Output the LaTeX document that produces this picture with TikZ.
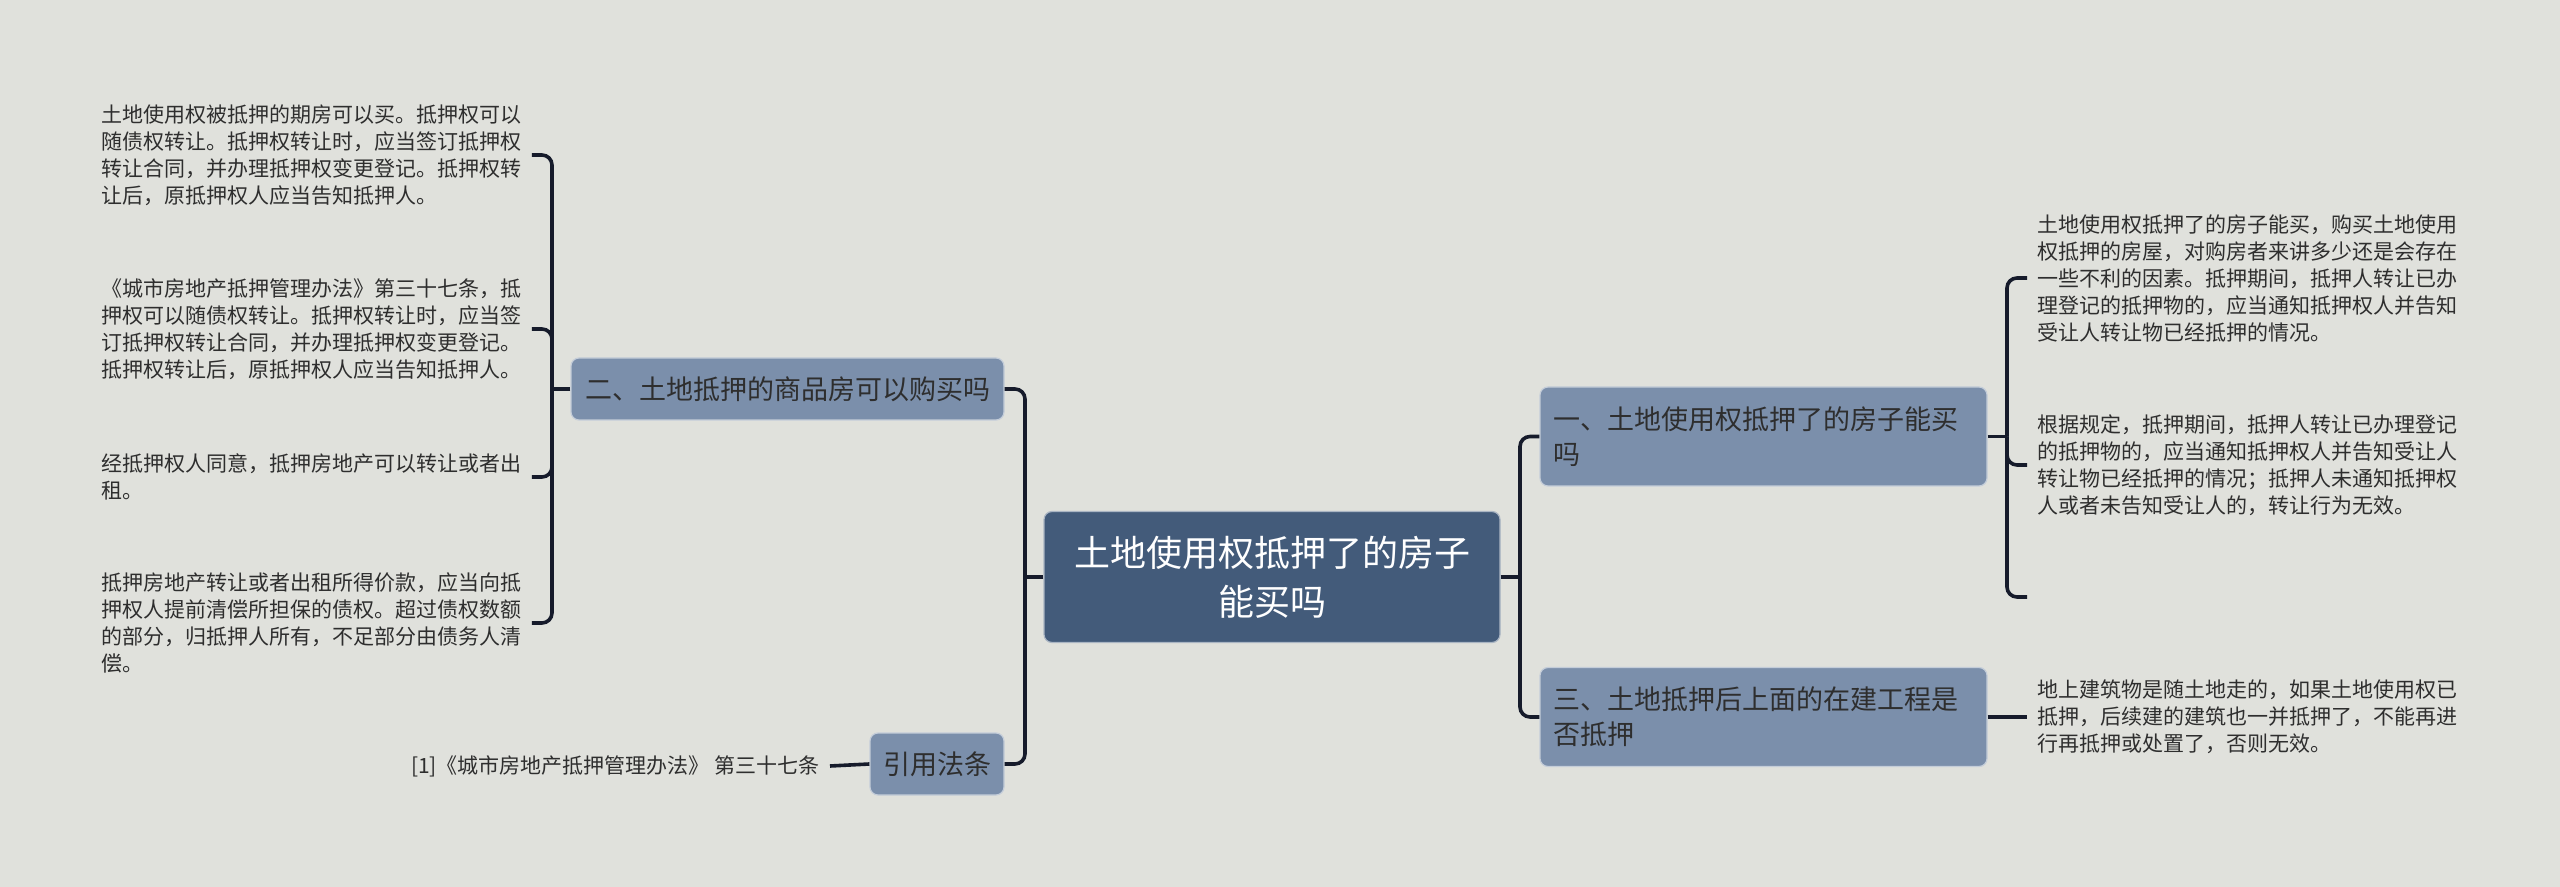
\documentclass[tikz,border=0pt]{standalone}
\usepackage{fontspec}
\setmainfont{Noto Sans CJK SC}
\usepackage{xcolor}
\usepackage{tikz}

\definecolor{bgcol}{HTML}{E0E1DC}
\definecolor{rootcol}{HTML}{435B7A}
\definecolor{branchcol}{HTML}{7B8FAB}
\definecolor{linecol}{HTML}{161B2B}
\definecolor{txtcol}{HTML}{2E2E2E}

\tikzset{
	rootbox/.style={draw=white!55!rootcol, line width=0.6pt, fill=rootcol, rounded corners=4pt, text=white,
		minimum width=228pt, minimum height=65.5pt, align=center, font=\fontsize{18pt}{24.5pt}\selectfont},
	branchbox/.style={draw=white!55!branchcol, line width=0.6pt, fill=branchcol, rounded corners=4pt, text=txtcol,
		minimum height=31pt, inner xsep=6pt, font=\fontsize{13.5pt}{17.5pt}\selectfont},
	leaftext/.style={text=txtcol, align=left, inner xsep=5pt, inner ysep=2pt, anchor=west,
		font=\fontsize{10.5pt}{13.5pt}\selectfont},
	link/.style={draw=linecol, line width=1.8pt, rounded corners=5pt}
}

\begin{document}
\begin{tikzpicture}[x=0.5pt, y=-0.5pt]
	\fill[bgcol] (0,0) rectangle (2560,887);
	\useasboundingbox (0,0) rectangle (2560,887);

	% centre
	\node[rootbox] (root) at (1272,577) {土地使用权抵押了的房子\\能买吗};

	% left side
	\node[branchbox, minimum width=216.5pt] (b2) at (787.5,389) {二、土地抵押的商品房可以购买吗};
	\node[branchbox, minimum width=67pt] (cite) at (937,764) {引用法条};

	\node[leaftext] (l1) at (91,155) {土地使用权被抵押的期房可以买。抵押权可以\\随债权转让。抵押权转让时，应当签订抵押权\\转让合同，并办理抵押权变更登记。抵押权转\\让后，原抵押权人应当告知抵押人。};
	\node[leaftext] (l2) at (91,329) {《城市房地产抵押管理办法》第三十七条，抵\\押权可以随债权转让。抵押权转让时，应当签\\订抵押权转让合同，并办理抵押权变更登记。\\抵押权转让后，原抵押权人应当告知抵押人。};
	\node[leaftext] (l3) at (91,477) {经抵押权人同意，抵押房地产可以转让或者出\\租。};
	\node[leaftext] (l4) at (91,623) {抵押房地产转让或者出租所得价款，应当向抵\\押权人提前清偿所担保的债权。超过债权数额\\的部分，归抵押人所有，不足部分由债务人清\\偿。};
	\node[leaftext, anchor=east] (ref) at (830,766) {[1]《城市房地产抵押管理办法》 第三十七条};

	% right side
	\node[branchbox, minimum width=223.5pt, minimum height=49.5pt, text width=210.5pt, align=left] (r1) at (1763.5,436.5) {一、土地使用权抵押了的房子能买\\吗};
	\node[branchbox, minimum width=223.5pt, minimum height=49.5pt, text width=210.5pt, align=left] (r3) at (1763.5,717) {三、土地抵押后上面的在建工程是\\否抵押};

	\node[leaftext] (rl1) at (2027,278) {土地使用权抵押了的房子能买，购买土地使用\\权抵押的房屋，对购房者来讲多少还是会存在\\一些不利的因素。抵押期间，抵押人转让已办\\理登记的抵押物的，应当通知抵押权人并告知\\受让人转让物已经抵押的情况。};
	\node[leaftext] (rl2) at (2027,465) {根据规定，抵押期间，抵押人转让已办理登记\\的抵押物的，应当通知抵押权人并告知受让人\\转让物已经抵押的情况；抵押人未通知抵押权\\人或者未告知受让人的，转让行为无效。};
	\coordinate (rl0) at (2027,597);
	\node[leaftext] (rl3) at (2027,717) {地上建筑物是随土地走的，如果土地使用权已\\抵押，后续建的建筑也一并抵押了，不能再进\\行再抵押或处置了，否则无效。};

	% connectors
	\coordinate (ltrunk) at (1025,577);
	\coordinate (rtrunk) at (1520,577);
	\coordinate (lbrace) at (552,389);
	\coordinate (rbrace) at (2007,436.5);

	\draw[link] (root.west) -- (ltrunk);
	\draw[link] (ltrunk) |- (b2.east);
	\draw[link] (ltrunk) |- (cite.east);
	\draw[link] (root.east) -- (rtrunk);
	\draw[link] (rtrunk) |- (r1.west);
	\draw[link] (rtrunk) |- (r3.west);

	\draw[link] (b2.west) -- (lbrace);
	\foreach \leaf in {l1,l2,l3,l4}
		\draw[link] (lbrace) |- (\leaf.east);
	\draw[link] (cite.west) -- (ref.east);

	\draw[link] (r1.east) -- (rbrace);
	\foreach \leaf in {rl1,rl2,rl0}
		\draw[link] (rbrace) |- (\leaf.west);
	\draw[link] (r3.east) -- (rl3.west);
\end{tikzpicture}
\end{document}
